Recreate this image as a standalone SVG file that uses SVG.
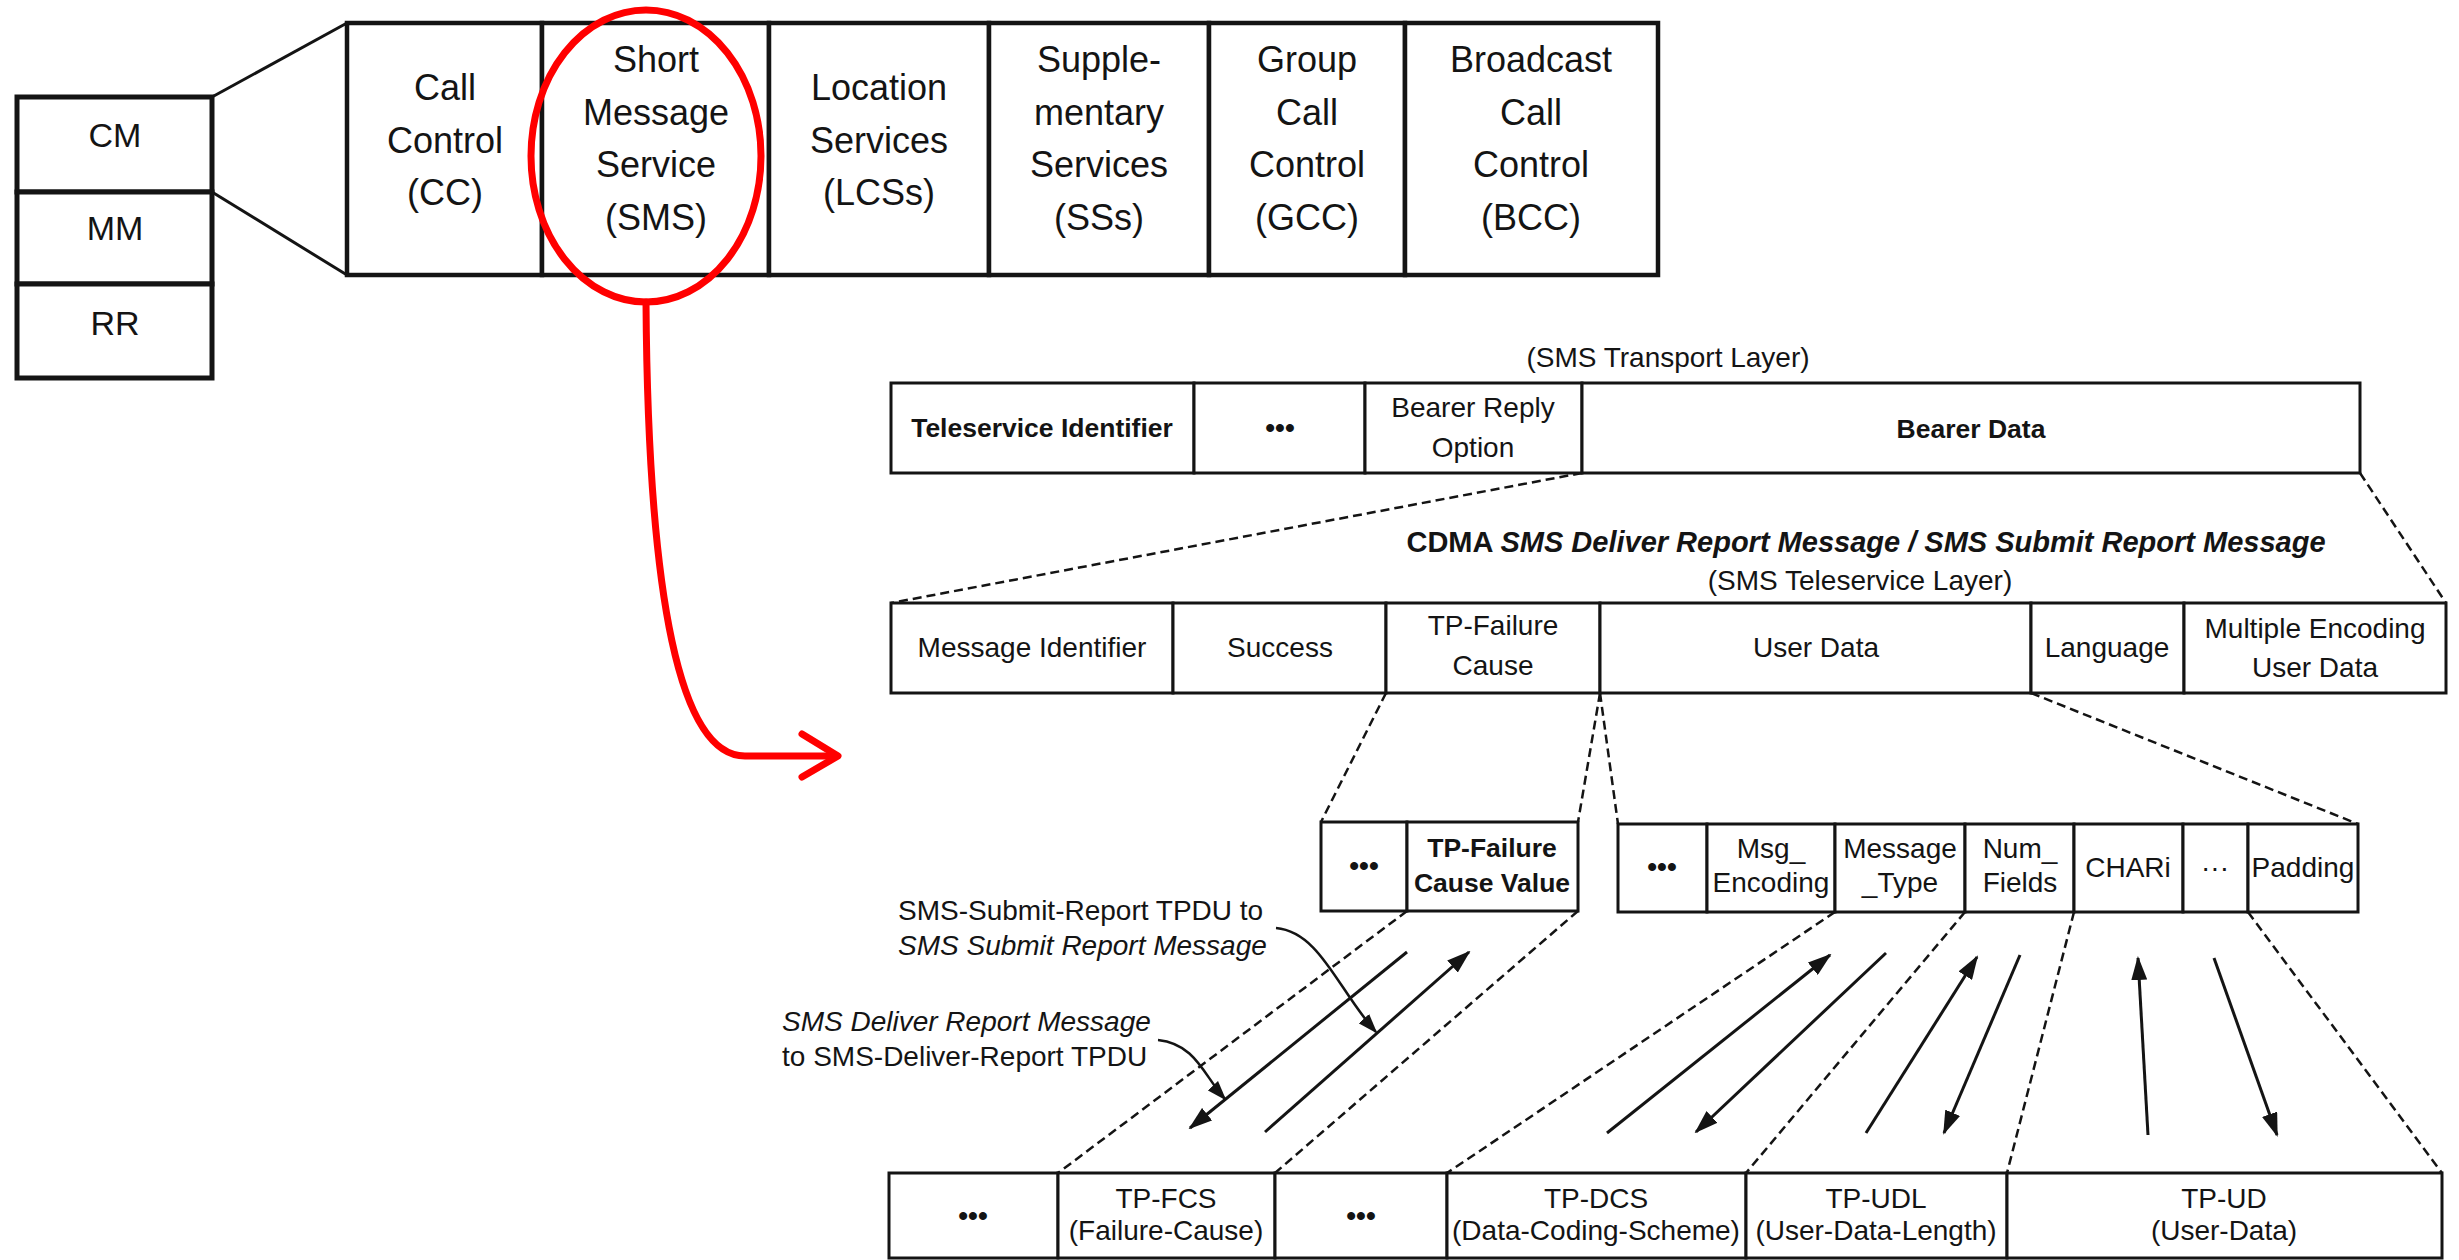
<svg xmlns="http://www.w3.org/2000/svg" width="2459" height="1260" viewBox="0 0 2459 1260">
<style>
text{font-family:"Liberation Sans",Arial,Helvetica,sans-serif;fill:#141414;text-anchor:middle}
.big{font-size:36px}
.mid{font-size:34px}
.sm{font-size:28px}
.smb{font-size:26.5px;font-weight:bold}
.ttl{font-size:29px;font-weight:bold}
.b{font-weight:bold}
.it{font-style:italic}
.l{text-anchor:start}
.cell{fill:#fff;stroke:#141414;stroke-width:3}
.cellT{fill:#fff;stroke:#141414;stroke-width:4.5}
.cellS{fill:#fff;stroke:#141414;stroke-width:5}
.dash{fill:none;stroke:#141414;stroke-width:2.5;stroke-dasharray:9 5}
.solid{fill:none;stroke:#141414;stroke-width:3}
.arr{fill:none;stroke:#141414;stroke-width:3;marker-end:url(#ah)}
.arr2{fill:none;stroke:#141414;stroke-width:2.5;marker-end:url(#ah2)}
.red{fill:none;stroke:#ff0000;stroke-width:7;stroke-linecap:round;stroke-linejoin:round}
</style>
<defs>
<marker id="ah" markerUnits="userSpaceOnUse" markerWidth="24" markerHeight="16" refX="22" refY="8" orient="auto">
<path d="M0,0 L24,8 L0,16 z" fill="#141414"/>
</marker>
<marker id="ah2" markerUnits="userSpaceOnUse" markerWidth="20" markerHeight="14" refX="18" refY="7" orient="auto">
<path d="M0,0 L20,7 L0,14 z" fill="#141414"/>
</marker>
</defs>
<rect width="2459" height="1260" fill="#fff"/>

<g id="connectors">
<line class="solid" x1="212" y1="97" x2="347" y2="23"/>
<line class="solid" x1="212" y1="192" x2="347" y2="275"/>
<line class="dash" x1="1582" y1="473" x2="891" y2="603"/>
<line class="dash" x1="2360" y1="473" x2="2446" y2="603"/>
<line class="dash" x1="1386" y1="693" x2="1321" y2="822"/>
<line class="dash" x1="1600" y1="693" x2="1578" y2="822"/>
<line class="dash" x1="1600" y1="693" x2="1618" y2="824"/>
<line class="dash" x1="2031" y1="693" x2="2358" y2="824"/>
<line class="dash" x1="1407" y1="911" x2="1058" y2="1173"/>
<line class="dash" x1="1578" y1="911" x2="1275" y2="1173"/>
<line class="dash" x1="1835" y1="912" x2="1447" y2="1173"/>
<line class="dash" x1="1965" y1="912" x2="1746" y2="1173"/>
<line class="dash" x1="2074" y1="912" x2="2007" y2="1173"/>
<line class="dash" x1="2248" y1="912" x2="2442" y2="1173"/>
<line class="arr" x1="1407" y1="952" x2="1190" y2="1128"/>
<line class="arr" x1="1265" y1="1132" x2="1469" y2="952"/>
<line class="arr" x1="1607" y1="1133" x2="1830" y2="955"/>
<line class="arr" x1="1886" y1="953" x2="1696" y2="1132"/>
<line class="arr" x1="1866" y1="1133" x2="1977" y2="957"/>
<line class="arr" x1="2020" y1="955" x2="1944" y2="1133"/>
<line class="arr" x1="2148" y1="1135" x2="2138" y2="958"/>
<line class="arr" x1="2214" y1="958" x2="2277" y2="1135"/>
<path class="arr2" d="M1276 928 C1320 932,1338 990,1376 1032"/>
<path class="arr2" d="M1158 1040 C1196 1044,1204 1076,1225 1099"/>
<path class="red" d="M646 302 C648 600,680 756,745 756 L836 756"/>
<polyline class="red" points="802,734 838,756 802,777"/>
</g>

<g id="stack">
<g id="cm"><rect class="cellS" x="17" y="97" width="195" height="95"/><text class="mid" x="115" y="147">CM</text></g>
<g id="mm"><rect class="cellS" x="17" y="192" width="195" height="92"/><text class="mid" x="115" y="240">MM</text></g>
<g id="rr"><rect class="cellS" x="17" y="284" width="195" height="94"/><text class="mid" x="115" y="335">RR</text></g>
</g>

<g id="toprow">
<g id="cc"><rect class="cellT" x="347" y="23" width="195" height="252"/>
<text class="big" x="445"><tspan x="445" y="100">Call</tspan><tspan x="445" y="153">Control</tspan><tspan x="445" y="205">(CC)</tspan></text></g>
<g id="sms"><rect class="cellT" x="542" y="23" width="227" height="252"/>
<text class="big" x="656"><tspan x="656" y="72">Short</tspan><tspan x="656" y="125">Message</tspan><tspan x="656" y="177">Service</tspan><tspan x="656" y="230">(SMS)</tspan></text></g>
<g id="lcs"><rect class="cellT" x="769" y="23" width="220" height="252"/>
<text class="big" x="879"><tspan x="879" y="100">Location</tspan><tspan x="879" y="153">Services</tspan><tspan x="879" y="205">(LCSs)</tspan></text></g>
<g id="ss"><rect class="cellT" x="989" y="23" width="220" height="252"/>
<text class="big" x="1099"><tspan x="1099" y="72">Supple-</tspan><tspan x="1099" y="125">mentary</tspan><tspan x="1099" y="177">Services</tspan><tspan x="1099" y="230">(SSs)</tspan></text></g>
<g id="gcc"><rect class="cellT" x="1209" y="23" width="196" height="252"/>
<text class="big" x="1307"><tspan x="1307" y="72">Group</tspan><tspan x="1307" y="125">Call</tspan><tspan x="1307" y="177">Control</tspan><tspan x="1307" y="230">(GCC)</tspan></text></g>
<g id="bcc"><rect class="cellT" x="1405" y="23" width="253" height="252"/>
<text class="big" x="1531"><tspan x="1531" y="72">Broadcast</tspan><tspan x="1531" y="125">Call</tspan><tspan x="1531" y="177">Control</tspan><tspan x="1531" y="230">(BCC)</tspan></text></g>
</g>

<g id="sms-highlight"><ellipse cx="646" cy="156" rx="115" ry="146" class="red"/></g>

<g id="transport">
<text class="sm" x="1668" y="367">(SMS Transport Layer)</text>
<g id="teleservice-id"><rect class="cell" x="891" y="383" width="303" height="90"/><text class="smb" x="1042" y="437">Teleservice Identifier</text></g>
<g id="t-dots"><rect class="cell" x="1194" y="383" width="171" height="90"/><text class="sm b" x="1280" y="437">•••</text></g>
<g id="bearer-reply"><rect class="cell" x="1365" y="383" width="217" height="90"/><text class="sm" x="1473"><tspan x="1473" y="417">Bearer Reply</tspan><tspan x="1473" y="457">Option</tspan></text></g>
<g id="bearer-data"><rect class="cell" x="1582" y="383" width="778" height="90"/><text class="smb" x="1971" y="438">Bearer Data</text></g>
</g>

<g id="teleservice">
<text class="ttl" x="1866" y="552">CDMA <tspan class="it">SMS Deliver Report Message / SMS Submit Report Message</tspan></text>
<text class="sm" x="1860" y="590">(SMS Teleservice Layer)</text>
<g id="msg-id"><rect class="cell" x="891" y="603" width="282" height="90"/><text class="sm" x="1032" y="657">Message Identifier</text></g>
<g id="success"><rect class="cell" x="1173" y="603" width="213" height="90"/><text class="sm" x="1280" y="657">Success</text></g>
<g id="tp-failure-cause"><rect class="cell" x="1386" y="603" width="214" height="90"/><text class="sm" x="1493"><tspan x="1493" y="635">TP-Failure</tspan><tspan x="1493" y="675">Cause</tspan></text></g>
<g id="user-data"><rect class="cell" x="1600" y="603" width="431" height="90"/><text class="sm" x="1816" y="657">User Data</text></g>
<g id="language"><rect class="cell" x="2031" y="603" width="153" height="90"/><text class="sm" x="2107" y="657">Language</text></g>
<g id="multi-enc"><rect class="cell" x="2184" y="603" width="262" height="90"/><text class="sm" x="2315"><tspan x="2315" y="638">Multiple Encoding</tspan><tspan x="2315" y="677">User Data</tspan></text></g>
</g>

<g id="failure-detail">
<g id="fa-dots"><rect class="cell" x="1321" y="822" width="86" height="89"/><text class="sm b" x="1364" y="875">•••</text></g>
<g id="fa-value"><rect class="cell" x="1407" y="822" width="171" height="89"/><text class="smb" x="1492"><tspan x="1492" y="857">TP-Failure</tspan><tspan x="1492" y="892">Cause Value</tspan></text></g>
</g>

<g id="userdata-detail">
<g id="ud-dots"><rect class="cell" x="1618" y="824" width="89" height="88"/><text class="sm b" x="1662" y="876">•••</text></g>
<g id="msg-enc"><rect class="cell" x="1707" y="824" width="128" height="88"/><text class="sm" x="1771"><tspan x="1771" y="858">Msg_</tspan><tspan x="1771" y="892">Encoding</tspan></text></g>
<g id="msg-type"><rect class="cell" x="1835" y="824" width="130" height="88"/><text class="sm" x="1900"><tspan x="1900" y="858">Message</tspan><tspan x="1900" y="892">_Type</tspan></text></g>
<g id="num-fields"><rect class="cell" x="1965" y="824" width="109" height="88"/><text class="sm" x="2020"><tspan x="2020" y="858">Num_</tspan><tspan x="2020" y="892">Fields</tspan></text></g>
<g id="chari"><rect class="cell" x="2074" y="824" width="109" height="88"/><text class="sm" x="2128" y="877">CHARi</text></g>
<g id="ud-ellipsis"><rect class="cell" x="2183" y="824" width="65" height="88"/><text class="sm" x="2215" y="877">···</text></g>
<g id="padding"><rect class="cell" x="2248" y="824" width="110" height="88"/><text class="sm" x="2303" y="877">Padding</text></g>
</g>

<g id="annotations">
<text class="sm l" x="898" y="920">SMS-Submit-Report TPDU to</text>
<text class="sm l it" x="898" y="955">SMS Submit Report Message</text>
<text class="sm l it" x="782" y="1031">SMS Deliver Report Message</text>
<text class="sm l" x="782" y="1066">to SMS-Deliver-Report TPDU</text>
</g>

<g id="tpdu">
<g id="b-dots1"><rect class="cell" x="889" y="1173" width="169" height="85"/><text class="sm b" x="973" y="1225">•••</text></g>
<g id="tp-fcs"><rect class="cell" x="1058" y="1173" width="217" height="85"/><text class="sm" x="1166"><tspan x="1166" y="1208">TP-FCS</tspan><tspan x="1166" y="1240">(Failure-Cause)</tspan></text></g>
<g id="b-dots2"><rect class="cell" x="1275" y="1173" width="172" height="85"/><text class="sm b" x="1361" y="1225">•••</text></g>
<g id="tp-dcs"><rect class="cell" x="1447" y="1173" width="299" height="85"/><text class="sm" x="1596"><tspan x="1596" y="1208">TP-DCS</tspan><tspan x="1596" y="1240">(Data-Coding-Scheme)</tspan></text></g>
<g id="tp-udl"><rect class="cell" x="1746" y="1173" width="261" height="85"/><text class="sm" x="1876"><tspan x="1876" y="1208">TP-UDL</tspan><tspan x="1876" y="1240">(User-Data-Length)</tspan></text></g>
<g id="tp-ud"><rect class="cell" x="2007" y="1173" width="435" height="85"/><text class="sm" x="2224"><tspan x="2224" y="1208">TP-UD</tspan><tspan x="2224" y="1240">(User-Data)</tspan></text></g>
</g>
</svg>
